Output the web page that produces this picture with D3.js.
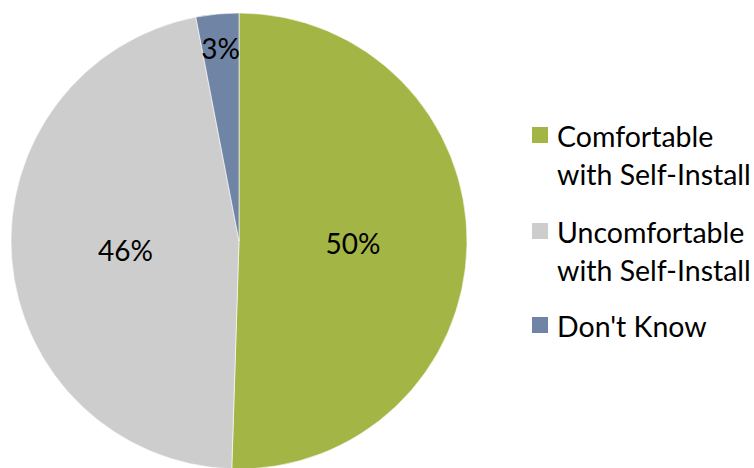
<!DOCTYPE html>
<html>
<head>
<meta charset="utf-8">
<script src="https://cdn.jsdelivr.net/npm/d3@7"></script>
<style>
  html, body { margin: 0; padding: 0; background: #fff; }
  svg { display: block; }
  text { font-family: Lato, "Open Sans", sans-serif; fill: #000; }
</style>
</head>
<body>
<svg id="chart" width="754" height="468"></svg>
<script>
// Survey responses (percent)
const categories = ["Comfortable with Self-Install", "Uncomfortable with Self-Install", "Don't Know"];
const legendLines = [["Comfortable", "with Self-Install"], ["Uncomfortable", "with Self-Install"], ["Don't Know"]];
const values = [50, 46, 3];
const colors = ["#A3B545", "#CDCDCD", "#7084A5"];

const svg = d3.select("#chart");
const cx = 239, cy = 241, R = 228;

const color = d3.scaleOrdinal().domain(categories).range(colors);

const pie = d3.pie().sort(null).value(d => d.value);
const data = pie(categories.map((c, i) => ({ name: c, value: values[i] })));
const total = d3.sum(values);

const arc = d3.arc().innerRadius(0).outerRadius(R);

const g = svg.append("g").attr("transform", `translate(${cx},${cy})`);

g.selectAll("path.slice")
  .data(data)
  .enter().append("path")
  .attr("class", "slice")
  .attr("d", arc)
  .attr("fill", d => color(d.data.name))
  .attr("stroke", "#fff")
  .attr("stroke-width", 0.6);

// Labels: large slices at half radius, thin slices pushed out near the rim
const labelPos = d => {
  const share = d.data.value / total;
  const r = share < 0.08 ? R * 0.85 : R * 0.5;
  return d3.arc().innerRadius(r).outerRadius(r).centroid(d);
};

g.selectAll("text.pct")
  .data(data)
  .enter().append("text")
  .attr("class", "pct")
  .attr("transform", d => `translate(${labelPos(d)})`)
  .attr("text-anchor", "middle")
  .attr("dy", "0.4em")
  .style("font-size", "28px")
  .text(d => d3.format(".0f")(d.data.value) + "%");

// Legend
const legendRows = [0, 96, 190];
const legend = svg.append("g").attr("transform", "translate(532,127)");
const item = legend.selectAll("g.item")
  .data(categories)
  .enter().append("g")
  .attr("class", "item")
  .attr("transform", (d, i) => `translate(0,${legendRows[i]})`);

item.append("rect")
  .attr("width", 16)
  .attr("height", 16)
  .attr("fill", d => color(d));

item.append("text")
  .attr("x", 25)
  .attr("y", 20)
  .style("font-size", "28.5px")
  .selectAll("tspan")
  .data((d, i) => legendLines[i])
  .enter().append("tspan")
  .attr("x", 25)
  .attr("dy", (d, j) => j === 0 ? 0 : 38)
  .text(d => d);
</script>
</body>
</html>
